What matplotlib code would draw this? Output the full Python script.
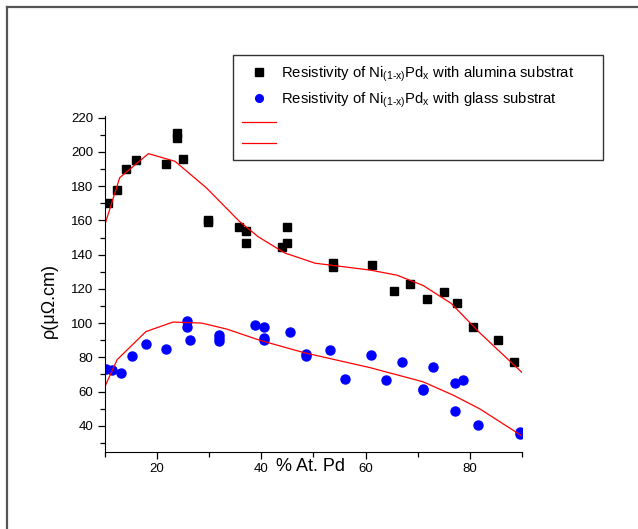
import matplotlib
matplotlib.use("Agg")
import matplotlib.pyplot as plt
from matplotlib.lines import Line2D
from matplotlib.ticker import MultipleLocator

plt.rcParams['font.family'] = ['Liberation Sans', 'DejaVu Sans']
plt.rcParams['mathtext.fontset'] = 'custom'
plt.rcParams['mathtext.rm'] = 'Liberation Sans'
plt.rcParams['mathtext.it'] = 'Liberation Sans:italic'

# Data
alumina_x = [10.7, 12.3, 14.1, 16.0, 21.7, 23.9, 23.9, 25.0, 29.9, 29.9, 35.8, 37.1, 37.1,
             44.0, 45.0, 45.0, 53.8, 53.8, 61.2, 65.5, 68.6, 71.8, 75.0, 77.6, 80.5, 85.3, 88.4]
alumina_y = [170, 178, 190, 195, 193, 211, 208, 196, 160, 159, 156, 154, 147,
             144.5, 156, 147, 135.4, 133, 134, 119, 123, 114, 118, 112, 98, 90, 77]

glass_x = [10.3, 11.5, 13.1, 15.3, 17.9, 21.8, 25.8, 25.8, 26.3, 31.9, 31.9, 31.9, 38.8,
           40.5, 40.5, 40.5, 45.5, 48.5, 48.5, 53.1, 56.1, 61.0, 63.9, 66.9, 71.0, 71.0,
           73.0, 77.1, 78.6, 77.1, 81.6, 89.5, 89.5]
glass_y = [73.3, 72.7, 70.8, 81, 88, 85, 101, 98, 90, 93, 91, 89.5, 99,
           97.5, 91.5, 90, 95, 82, 80.5, 84, 67.5, 81.6, 67, 77, 61.6, 60.8,
           74.5, 65, 67, 48.5, 40.5, 36.5, 35]

fit1_x = [10, 12.9, 18.4, 23.5, 29.5, 35.8, 39.4, 44.5, 50.3, 60.8, 66, 71, 76.4, 81.8, 90]
fit1_y = [157, 185, 199, 194.5, 179, 159.5, 150.5, 141, 135, 131, 128, 122, 111.5, 94.5, 71]

fit2_x = [10, 12.4, 17.9, 23.1, 28.6, 33.4, 39.7, 45.5, 48.5, 60.8, 71, 76.7, 81.8, 90]
fit2_y = [62.5, 78.6, 95, 100.6, 100, 96.5, 90, 85, 82.5, 74, 65.7, 58, 50, 34]

label_alumina = r'Resistivity of Ni$_{\mathregular{(1\text{-}x)}}$Pd$_{\mathregular{x}}$ with alumina substrat'
label_glass = r'Resistivity of Ni$_{\mathregular{(1\text{-}x)}}$Pd$_{\mathregular{x}}$ with glass substrat'

fig = plt.figure(figsize=(6.38, 5.29), dpi=100)
ax = fig.add_axes([104.6/638, 76.7/529, (522.2-104.6)/638, (452.3-116)/529])

ax.plot(alumina_x, alumina_y, 's', color='black', markersize=6, linestyle='none', label=label_alumina)
ax.plot(glass_x, glass_y, 'o', color='blue', markersize=6.5, linestyle='none', label=label_glass)
ax.plot(fit1_x, fit1_y, '-', color='red', lw=0.9, label=' ')
ax.plot(fit2_x, fit2_y, '-', color='red', lw=0.9, label=' ')

ax.set_xlim(10, 90)
ax.set_ylim(24.5, 221)
ax.xaxis.set_major_locator(MultipleLocator(20))
ax.xaxis.set_minor_locator(MultipleLocator(10))
ax.yaxis.set_major_locator(MultipleLocator(20))
ax.yaxis.set_minor_locator(MultipleLocator(10))
ax.set_yticks(range(40, 221, 20))
for s in ['top', 'right']:
    ax.spines[s].set_visible(False)
ax.tick_params(which='major', length=5, width=0.9, labelsize=9.5, pad=3)
ax.tick_params(which='minor', length=3.5, width=0.9)

ax.set_xlabel('% At. Pd', fontsize=13)
ax.xaxis.set_label_coords(0.494, -0.018)
ax.set_ylabel('ρ(μΩ.cm)', fontsize=13)
ax.yaxis.set_label_coords(-0.112, 0.45)

leg_x0, leg_x1 = 233/638, 603/638
leg_top, leg_bot = 1 - 55/529, 1 - 158/529
leg = fig.legend(loc='upper left', bbox_to_anchor=(leg_x0, leg_bot, leg_x1 - leg_x0, leg_top - leg_bot),
                 mode='expand', fontsize=10.7,
                 frameon=True, fancybox=False, edgecolor='black', handlelength=2.3,
                 handletextpad=0.3, borderaxespad=0, borderpad=0.62, labelspacing=0.45,
                 markerscale=0.85)
leg.get_frame().set_linewidth(1.0)

# outer frame (top and left edges)
fig.add_artist(Line2D([7/638, 1.0], [1 - 7/529, 1 - 7/529], transform=fig.transFigure,
                      color='#555555', lw=1.6))
fig.add_artist(Line2D([7/638, 7/638], [0, 1 - 7/529], transform=fig.transFigure,
                      color='#555555', lw=1.6))

fig.savefig('out.png', dpi=100)
